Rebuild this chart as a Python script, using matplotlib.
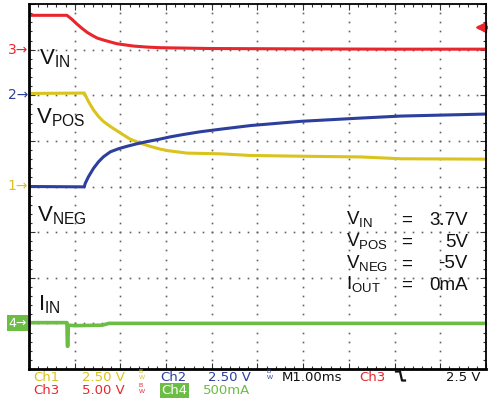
import numpy as np
import matplotlib
matplotlib.use('Agg')
import matplotlib.pyplot as plt
from matplotlib.lines import Line2D

plt.rcParams['font.family'] = ['Liberation Sans', 'DejaVu Sans']
plt.rcParams['mathtext.fontset'] = 'custom'
plt.rcParams['mathtext.rm'] = 'Liberation Sans'

W, H = 489, 398

# scope setup: volts (or mA) per division, ground marker position in divisions
ch1_scale, ch1_ref = 2.5, 0.0     # VPOS
ch2_scale, ch2_ref = 2.5, 2.0     # VNEG
ch3_scale, ch3_ref = 5.0, 3.0     # VIN
ch4_scale, ch4_ref = 500.0, -3.0  # IIN (mA)
trig_level = 2.5                  # Ch3 falling edge

# traces, time in ms (1 ms/div)
vin_t = [0, 0.83, 0.94, 1.05, 1.16, 1.27, 1.38, 1.49, 1.63, 1.78, 1.92, 2.07,
         2.29, 2.58, 2.87, 4.0, 6.0, 8.0, 10.0]
vin_v = [3.76, 3.76, 3.32, 2.8, 2.33, 1.9, 1.57, 1.27, 1.05, 0.84, 0.65, 0.54,
         0.39, 0.28, 0.21, 0.12, 0.08, 0.05, 0.05]

vpos_t = [0, 1.21, 1.30, 1.41, 1.52, 1.63, 1.78, 2.0, 2.21, 2.43, 2.65, 2.87,
          3.02, 3.46, 4.19, 4.85, 5.94, 7.26, 8.14, 10.0]
vpos_v = [5.1, 5.12, 4.66, 4.2, 3.84, 3.56, 3.29, 2.93, 2.6, 2.38, 2.2, 2.05,
          1.97, 1.83, 1.79, 1.70, 1.66, 1.62, 1.52, 1.5]

vneg_t = [0, 1.21, 1.23, 1.30, 1.41, 1.52, 1.63, 1.78, 1.96, 2.14, 2.36, 2.58,
          2.87, 3.09, 3.38, 3.75, 4.19, 4.85, 5.94, 7.26, 8.14, 10.0]
vneg_v = [-5.0, -5.02, -4.83, -4.47, -4.01, -3.65, -3.37, -3.1, -2.93, -2.8,
          -2.66, -2.54, -2.40, -2.28, -2.15, -2.0, -1.86, -1.66, -1.43, -1.25,
          -1.14, -1.03]

iin_t = [0, 0.83, 0.84, 0.85, 0.86, 1.0, 1.6, 1.75, 10.0]
iin_ma = [8, 8, -250, -250, -20, -25, -20, 0, 0]

RED = '#e8262c'
YELLOW = '#d9c31c'
BLUE = '#2c3f9d'
GREEN = '#6cbd44'


def fx(px):
    return px / W


def fy(py):
    return 1 - py / H


fig = plt.figure(figsize=(W / 100, H / 100), dpi=100)
ax = fig.add_axes([fx(29), fy(369), (486 - 29) / W, (369 - 4) / H])
ax.set_xlim(0, 10)
ax.set_ylim(-4, 4)

# graticule: dotted lines every division, dots every 0.2 div
fine_x = np.arange(0, 10.01, 0.2)
fine_y = np.arange(-4, 4.01, 0.2)
for gx in range(1, 10):
    ax.plot(np.full_like(fine_y, gx), fine_y, ls='none', marker='s', ms=1.2,
            color='#606060', mew=0)
for gy in range(-3, 4):
    ax.plot(fine_x, np.full_like(fine_x, gy), ls='none', marker='s', ms=1.2,
            color='#606060', mew=0)

ax.set_xticks(range(0, 11))
ax.set_yticks(range(-4, 5))
ax.set_xticks(fine_x, minor=True)
ax.set_yticks(fine_y, minor=True)
ax.tick_params(which='both', direction='in', top=True, right=True,
               labelbottom=False, labelleft=False, color='#333333')
ax.tick_params(which='major', length=4, width=0.8)
ax.tick_params(which='minor', length=2.5, width=0.8)
for s in ax.spines.values():
    s.set_linewidth(1.3)
ax.spines['left'].set_linewidth(2)
ax.spines['bottom'].set_linewidth(2)

# traces
ax.plot(vin_t, np.array(vin_v) / ch3_scale + ch3_ref, color=RED, lw=2.2)
ax.plot(vpos_t, np.array(vpos_v) / ch1_scale + ch1_ref, color=YELLOW, lw=2.2)
ax.plot(vneg_t, np.array(vneg_v) / ch2_scale + ch2_ref, color=BLUE, lw=2.2)
ax.plot(iin_t, np.array(iin_ma) / ch4_scale + ch4_ref, color=GREEN, lw=2.6)

# trigger level marker on right edge
ty = trig_level / ch3_scale + ch3_ref
ax.plot([9.85, 10.0], [ty, ty], color=RED, lw=2.5, clip_on=False)
ax.plot([9.88], [ty], marker='<', ms=7, color=RED, clip_on=False)

# trace labels
lab = dict(fontsize=16, color='#111111', va='baseline', ha='left')
fig.text(fx(39), fy(64), r'V$_{\mathrm{IN}}$', **lab)
fig.text(fx(36), fy(123), r'V$_{\mathrm{POS}}$', **lab)
fig.text(fx(37), fy(221), r'V$_{\mathrm{NEG}}$', **lab)
fig.text(fx(38), fy(310), r'I$_{\mathrm{IN}}$', **lab)

# conditions block
conds = [(r'V$_{\mathrm{IN}}$', '3.7V'), (r'V$_{\mathrm{POS}}$', '5V'),
         (r'V$_{\mathrm{NEG}}$', '-5V'), (r'I$_{\mathrm{OUT}}$', '0mA')]
for i, (name, val) in enumerate(conds):
    by = fy(225 + i * 21.7)
    fig.text(fx(346), by, name, fontsize=13.5, color='#111111', va='baseline')
    fig.text(fx(401), by, '=', fontsize=13.5, color='#111111', va='baseline')
    fig.text(fx(468), by, val, fontsize=13.5, color='#111111', va='baseline', ha='right')

# channel ground markers on the left
for ref, num, col in [(ch3_ref, '3', RED), (ch2_ref, '2', BLUE), (ch1_ref, '1', YELLOW)]:
    py = 186.4 - ref * 45.6
    fig.text(fx(28), fy(py), num + '\u2192', fontsize=10, color=col,
             ha='right', va='center', family='DejaVu Sans')
py4 = 186.4 - ch4_ref * 45.6
fig.text(fx(27), fy(py4), '4\u2192', fontsize=9, color='white', ha='right',
         va='center', family='DejaVu Sans',
         bbox=dict(facecolor=GREEN, edgecolor='none', pad=1.0))

# bottom readout
bt = dict(fontsize=9.5, va='baseline', family='DejaVu Sans')
r1, r2 = 381, 394
fig.text(fx(33), fy(r1), 'Ch1', color=YELLOW, **bt)
fig.text(fx(82), fy(r1), '2.50 V', color=YELLOW, **bt)
fig.text(fx(160), fy(r1), 'Ch2', color=BLUE, **bt)
fig.text(fx(208), fy(r1), '2.50 V', color=BLUE, **bt)
fig.text(fx(282), fy(r1), 'M1.00ms', color='#111111', **bt)
fig.text(fx(359), fy(r1), 'Ch3', color=RED, **bt)
fig.text(fx(481), fy(r1), '2.5 V', color='#111111', ha='right', **bt)
fig.text(fx(33), fy(r2), 'Ch3', color=RED, **bt)
fig.text(fx(82), fy(r2), '5.00 V', color=RED, **bt)
fig.text(fx(161), fy(r2), 'Ch4', color='white',
         bbox=dict(facecolor=GREEN, edgecolor='none', pad=1.0), **bt)
fig.text(fx(203), fy(r2), '500mA', color=GREEN, **bt)

# bandwidth-limit glyphs
for bx, by, col in [(138, r1, YELLOW), (266, r1, BLUE), (138, r2, RED)]:
    fig.text(fx(bx), fy(by - 3), r'$^{\mathrm{B}}_{\mathrm{W}}$', fontsize=6.5,
             color=col, va='baseline')

# falling-edge trigger symbol
fig.add_artist(Line2D([fx(396), fx(400), fx(402), fx(405)],
                      [fy(371.5), fy(371.5), fy(380.5), fy(380.5)],
                      color='#111111', lw=1.6))

fig.savefig('out.png', dpi=100)
